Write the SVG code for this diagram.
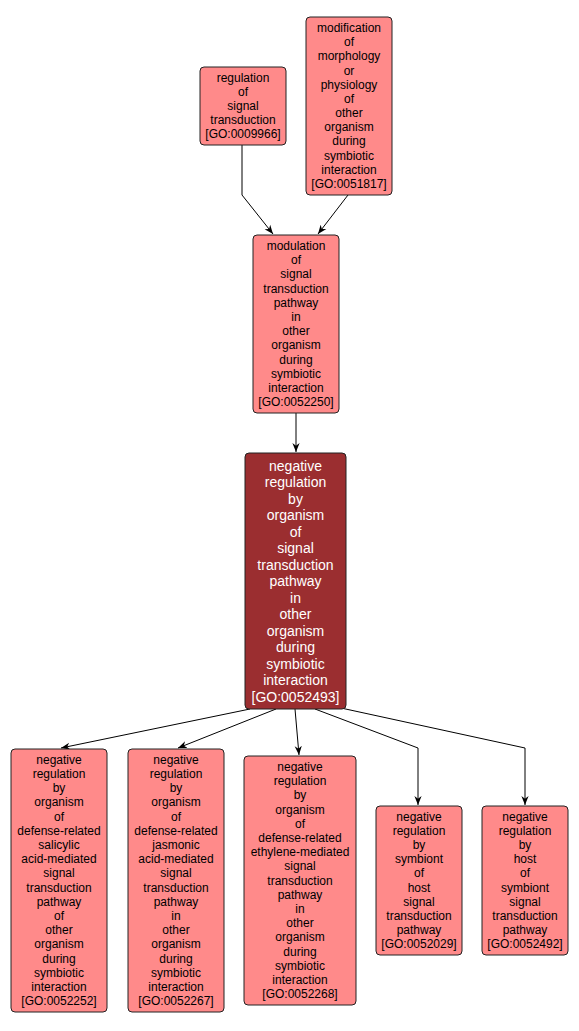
<svg xmlns="http://www.w3.org/2000/svg" width="579" height="1031" viewBox="0 0 579 1031">
<defs>
<style>
.n rect{fill:#ff8a8a;stroke:#222;stroke-width:1}
.n text{font-family:"Liberation Sans",Arial,sans-serif;font-size:12px;fill:#000;text-anchor:middle}
.m rect{fill:#9b2e30;stroke:#222;stroke-width:1}
.m text{font-family:"Liberation Sans",Arial,sans-serif;font-size:14px;fill:#fff;text-anchor:middle}
.e path{fill:none;stroke:#000;stroke-width:1}
</style>
<marker id="ah" viewBox="0 0 10 10" refX="10" refY="5" markerWidth="9" markerHeight="9" markerUnits="userSpaceOnUse" orient="auto">
<path d="M0,1 L10,5 L0,9 L3,5 Z" fill="#000"/>
</marker>
</defs>
<rect width="579" height="1031" fill="#fff"/>
<g id="connectors" class="e">
<path d="M242,145 L242,195 L273,234" marker-end="url(#ah)"/>
<path d="M348,195 L318,234" marker-end="url(#ah)"/>
<path d="M296,413 L296,452" marker-end="url(#ah)"/>
<path d="M250,709 L61,748" marker-end="url(#ah)"/>
<path d="M276,709 L178,748" marker-end="url(#ah)"/>
<path d="M295,709 L299,755" marker-end="url(#ah)"/>
<path d="M315,709 L418,748 L418,805" marker-end="url(#ah)"/>
<path d="M341,708 L525,748 L525,805" marker-end="url(#ah)"/>
</g>
<g id="GO0009966" class="n">
<rect x="200" y="67" width="86" height="78" rx="4"/>
<text x="243" y="81.6"><tspan x="243">regulation</tspan><tspan x="243" dy="14.2">of</tspan><tspan x="243" dy="14.2">signal</tspan><tspan x="243" dy="14.2">transduction</tspan><tspan x="243" dy="14.2">[GO:0009966]</tspan></text>
</g>
<g id="GO0051817" class="n">
<rect x="306" y="17" width="86" height="178" rx="4"/>
<text x="349" y="31.9"><tspan x="349">modification</tspan><tspan x="349" dy="14.2">of</tspan><tspan x="349" dy="14.2">morphology</tspan><tspan x="349" dy="14.2">or</tspan><tspan x="349" dy="14.2">physiology</tspan><tspan x="349" dy="14.2">of</tspan><tspan x="349" dy="14.2">other</tspan><tspan x="349" dy="14.2">organism</tspan><tspan x="349" dy="14.2">during</tspan><tspan x="349" dy="14.2">symbiotic</tspan><tspan x="349" dy="14.2">interaction</tspan><tspan x="349" dy="14.2">[GO:0051817]</tspan></text>
</g>
<g id="GO0052250" class="n">
<rect x="253" y="235" width="86" height="178" rx="4"/>
<text x="296" y="249.9"><tspan x="296">modulation</tspan><tspan x="296" dy="14.2">of</tspan><tspan x="296" dy="14.2">signal</tspan><tspan x="296" dy="14.2">transduction</tspan><tspan x="296" dy="14.2">pathway</tspan><tspan x="296" dy="14.2">in</tspan><tspan x="296" dy="14.2">other</tspan><tspan x="296" dy="14.2">organism</tspan><tspan x="296" dy="14.2">during</tspan><tspan x="296" dy="14.2">symbiotic</tspan><tspan x="296" dy="14.2">interaction</tspan><tspan x="296" dy="14.2">[GO:0052250]</tspan></text>
</g>
<g id="GO0052493" class="m">
<rect x="245" y="453" width="101" height="256" rx="4"/>
<text x="295.5" y="470.5"><tspan x="295.5">negative</tspan><tspan x="295.5" dy="16.5">regulation</tspan><tspan x="295.5" dy="16.5">by</tspan><tspan x="295.5" dy="16.5">organism</tspan><tspan x="295.5" dy="16.5">of</tspan><tspan x="295.5" dy="16.5">signal</tspan><tspan x="295.5" dy="16.5">transduction</tspan><tspan x="295.5" dy="16.5">pathway</tspan><tspan x="295.5" dy="16.5">in</tspan><tspan x="295.5" dy="16.5">other</tspan><tspan x="295.5" dy="16.5">organism</tspan><tspan x="295.5" dy="16.5">during</tspan><tspan x="295.5" dy="16.5">symbiotic</tspan><tspan x="295.5" dy="16.5">interaction</tspan><tspan x="295.5" dy="16.5">[GO:0052493]</tspan></text>
</g>
<g id="GO0052252" class="n">
<rect x="11" y="749" width="96" height="263" rx="4"/>
<text x="59" y="763.8"><tspan x="59">negative</tspan><tspan x="59" dy="14.2">regulation</tspan><tspan x="59" dy="14.2">by</tspan><tspan x="59" dy="14.2">organism</tspan><tspan x="59" dy="14.2">of</tspan><tspan x="59" dy="14.2">defense-related</tspan><tspan x="59" dy="14.2">salicylic</tspan><tspan x="59" dy="14.2">acid-mediated</tspan><tspan x="59" dy="14.2">signal</tspan><tspan x="59" dy="14.2">transduction</tspan><tspan x="59" dy="14.2">pathway</tspan><tspan x="59" dy="14.2">of</tspan><tspan x="59" dy="14.2">other</tspan><tspan x="59" dy="14.2">organism</tspan><tspan x="59" dy="14.2">during</tspan><tspan x="59" dy="14.2">symbiotic</tspan><tspan x="59" dy="14.2">interaction</tspan><tspan x="59" dy="14.2">[GO:0052252]</tspan></text>
</g>
<g id="GO0052267" class="n">
<rect x="128" y="749" width="96" height="263" rx="4"/>
<text x="176" y="763.8"><tspan x="176">negative</tspan><tspan x="176" dy="14.2">regulation</tspan><tspan x="176" dy="14.2">by</tspan><tspan x="176" dy="14.2">organism</tspan><tspan x="176" dy="14.2">of</tspan><tspan x="176" dy="14.2">defense-related</tspan><tspan x="176" dy="14.2">jasmonic</tspan><tspan x="176" dy="14.2">acid-mediated</tspan><tspan x="176" dy="14.2">signal</tspan><tspan x="176" dy="14.2">transduction</tspan><tspan x="176" dy="14.2">pathway</tspan><tspan x="176" dy="14.2">in</tspan><tspan x="176" dy="14.2">other</tspan><tspan x="176" dy="14.2">organism</tspan><tspan x="176" dy="14.2">during</tspan><tspan x="176" dy="14.2">symbiotic</tspan><tspan x="176" dy="14.2">interaction</tspan><tspan x="176" dy="14.2">[GO:0052267]</tspan></text>
</g>
<g id="GO0052268" class="n">
<rect x="244" y="756" width="112" height="249" rx="4"/>
<text x="300" y="770.9"><tspan x="300">negative</tspan><tspan x="300" dy="14.2">regulation</tspan><tspan x="300" dy="14.2">by</tspan><tspan x="300" dy="14.2">organism</tspan><tspan x="300" dy="14.2">of</tspan><tspan x="300" dy="14.2">defense-related</tspan><tspan x="300" dy="14.2">ethylene-mediated</tspan><tspan x="300" dy="14.2">signal</tspan><tspan x="300" dy="14.2">transduction</tspan><tspan x="300" dy="14.2">pathway</tspan><tspan x="300" dy="14.2">in</tspan><tspan x="300" dy="14.2">other</tspan><tspan x="300" dy="14.2">organism</tspan><tspan x="300" dy="14.2">during</tspan><tspan x="300" dy="14.2">symbiotic</tspan><tspan x="300" dy="14.2">interaction</tspan><tspan x="300" dy="14.2">[GO:0052268]</tspan></text>
</g>
<g id="GO0052029" class="n">
<rect x="376" y="806" width="86" height="149" rx="4"/>
<text x="419" y="820.6"><tspan x="419">negative</tspan><tspan x="419" dy="14.2">regulation</tspan><tspan x="419" dy="14.2">by</tspan><tspan x="419" dy="14.2">symbiont</tspan><tspan x="419" dy="14.2">of</tspan><tspan x="419" dy="14.2">host</tspan><tspan x="419" dy="14.2">signal</tspan><tspan x="419" dy="14.2">transduction</tspan><tspan x="419" dy="14.2">pathway</tspan><tspan x="419" dy="14.2">[GO:0052029]</tspan></text>
</g>
<g id="GO0052492" class="n">
<rect x="482" y="806" width="86" height="149" rx="4"/>
<text x="525" y="820.6"><tspan x="525">negative</tspan><tspan x="525" dy="14.2">regulation</tspan><tspan x="525" dy="14.2">by</tspan><tspan x="525" dy="14.2">host</tspan><tspan x="525" dy="14.2">of</tspan><tspan x="525" dy="14.2">symbiont</tspan><tspan x="525" dy="14.2">signal</tspan><tspan x="525" dy="14.2">transduction</tspan><tspan x="525" dy="14.2">pathway</tspan><tspan x="525" dy="14.2">[GO:0052492]</tspan></text>
</g>
</svg>
